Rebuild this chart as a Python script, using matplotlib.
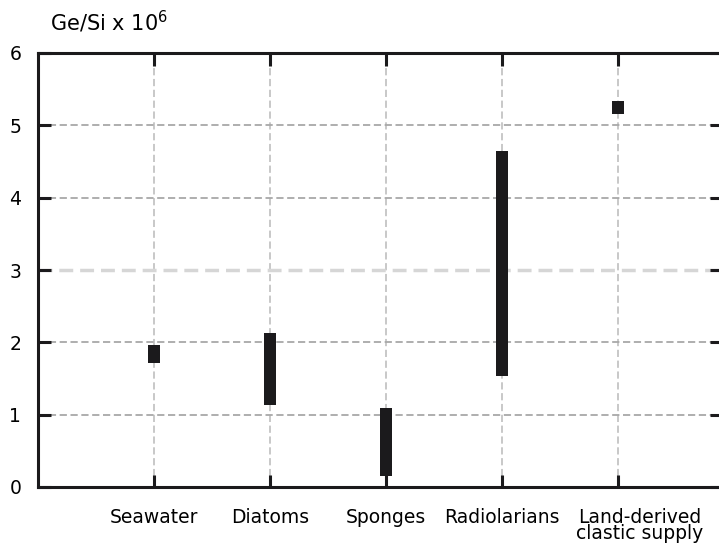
import matplotlib
matplotlib.use("Agg")
import matplotlib.pyplot as plt
import matplotlib.transforms as mtransforms

categories = ["Seawater", "Diatoms", "Sponges", "Radiolarians", "Land-derived\nclastic supply"]
low = [1.71, 1.14, 0.15, 1.54, 5.16]
high = [1.96, 2.13, 1.09, 4.64, 5.33]
yticks = [0, 1, 2, 3, 4, 5, 6]

plt.rcParams['font.family'] = ['DejaVu Sans']

W, H = 719, 551
fig = plt.figure(figsize=(W / 100, H / 100), dpi=100)
left, right, top, bottom = 38, 722, 53, 487
ax = fig.add_axes([left / W, (H - bottom) / H, (right - left) / W, (bottom - top) / H])

x = list(range(1, len(categories) + 1))
heights = [h - l for h, l in zip(high, low)]
ax.bar(x, heights, bottom=low, width=0.105, color="#1b1a1c", zorder=3)

ax.set_xlim(0, 5.9)
ax.set_ylim(0, 6)
ax.set_yticks(yticks)
ax.set_xticks(x)
ax.set_xticklabels(categories, fontsize=13.5, linespacing=0.78)
ax.set_yticklabels([str(v) for v in yticks], fontsize=13.5)

ax.tick_params(axis="both", direction="in", length=9, width=2.2, color="#1b1a1c",
               top=True, right=True)
ax.tick_params(axis="x", pad=15)
ax.tick_params(axis="y", pad=12)

for sp in ax.spines.values():
    sp.set_linewidth(2.2)
    sp.set_color("#1b1a1c")

ax.grid(True, color="#a8a8a8", linestyle=(0, (4, 2)), linewidth=1.3, zorder=1)
for gl in ax.get_xgridlines():
    gl.set_color("#c4c4c4")
for gl, v in zip(ax.get_ygridlines(), yticks):
    if v == 3:
        gl.set_color("#d6d6d6")
        gl.set_linewidth(2.5)

# shift last label as in the reference
lab = ax.get_xticklabels()[-1]
lab.set_horizontalalignment("center")
lab.set_transform(lab.get_transform() + mtransforms.ScaledTranslation(0.22, 0, fig.dpi_scale_trans))

fig.text(50 / W, 1 - 22 / H, "Ge/Si x 10$^6$", fontsize=15, va="center", ha="left")

fig.savefig("out.png", dpi=100)
